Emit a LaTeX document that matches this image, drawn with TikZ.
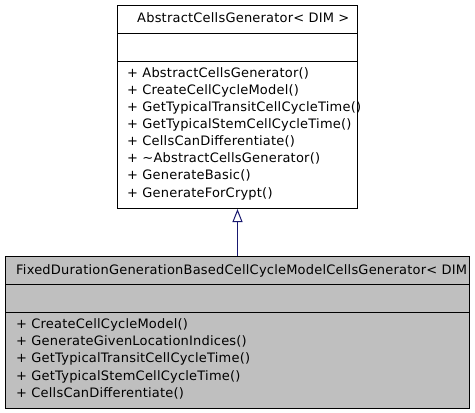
\documentclass[tikz,border=0pt]{standalone}
\usepackage{fontspec}
\setmainfont[LetterSpace=1.6]{DejaVu Sans}
\usetikzlibrary{arrows.meta, positioning}
\definecolor{midnightblue}{HTML}{191970}
\definecolor{grey75}{HTML}{BFBFBF}

\begin{document}
\begin{tikzpicture}[
  x=1pt, y=-1pt,
  every node/.style={font=\fontsize{13}{17.1}\selectfont, inner sep=0pt},
  classbox/.style={rectangle, draw=black, line width=1pt, anchor=north west},
  member/.style={anchor=base west, align=left},
  inherit/.style={draw=midnightblue, line width=1pt, -{Triangle[open, length=13pt, width=10pt]}}
]
\useasboundingbox[fill=white] (0,0) rectangle (475,413);

% base class
\node[classbox, minimum width=240pt, minimum height=203pt] (absgen) at (117,5) {};
\draw[line width=1pt] ([yshift=-28pt]absgen.north west) -- ([yshift=-28pt]absgen.north east);
\draw[line width=1pt] ([yshift=-56pt]absgen.north west) -- ([yshift=-56pt]absgen.north east);
\node[member] (absgen-name) at (137,22.7) {AbstractCellsGenerator< DIM >};
% multi-line node: base is the last line
\node[member] (absgen-ops) at (127,197.0) {+ AbstractCellsGenerator()\\
  + CreateCellCycleModel()\\
  + GetTypicalTransitCellCycleTime()\\
  + GetTypicalStemCellCycleTime()\\
  + CellsCanDifferentiate()\\
  + \textasciitilde AbstractCellsGenerator()\\
  + GenerateBasic()\\
  + GenerateForCrypt()};

% derived class
\node[classbox, fill=grey75, minimum width=464pt, minimum height=152pt] (fixgen) at (5,256) {};
\draw[line width=1pt] ([yshift=-28pt]fixgen.north west) -- ([yshift=-28pt]fixgen.north east);
\draw[line width=1pt] ([yshift=-56pt]fixgen.north west) -- ([yshift=-56pt]fixgen.north east);
\begin{scope}
  \clip (fixgen.north west) rectangle (fixgen.south east);
  \node[member] (fixgen-name) at (16,274.3) {FixedDurationGenerationBasedCellCycleModelCellsGenerator< DIM >};
\end{scope}
\node[member] (fixgen-ops) at (16,397.1) {+ CreateCellCycleModel()\\
  + GenerateGivenLocationIndices()\\
  + GetTypicalTransitCellCycleTime()\\
  + GetTypicalStemCellCycleTime()\\
  + CellsCanDifferentiate()};

% inheritance
\draw[inherit] (fixgen.north) -- (absgen.south);

\end{tikzpicture}
\end{document}
